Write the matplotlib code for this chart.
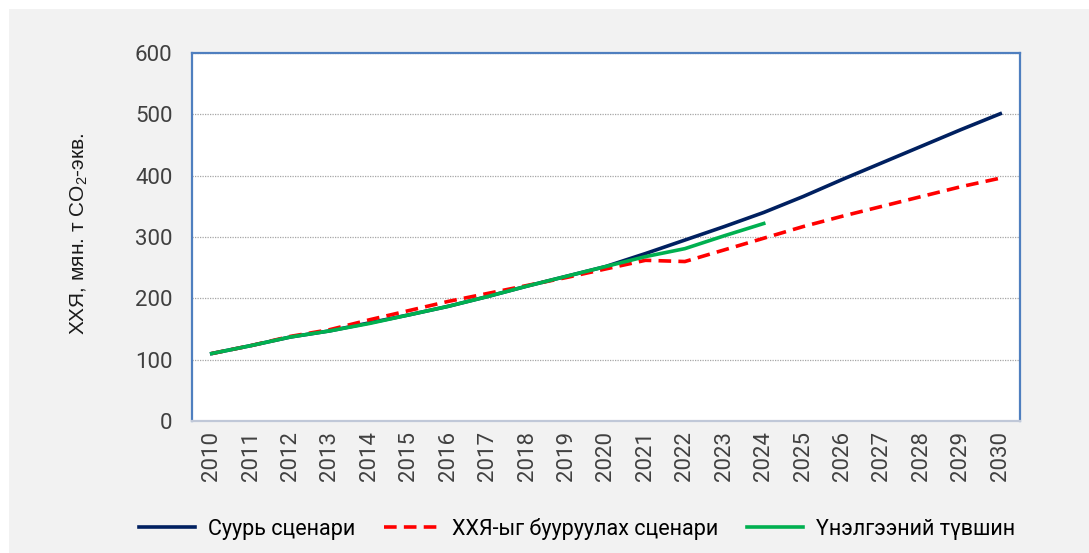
import matplotlib
matplotlib.use("Agg")
import matplotlib.pyplot as plt
from matplotlib.patches import Rectangle

years = list(range(2010, 2031))
base = [110, 123, 137, 147, 160, 173, 187, 203, 220, 236, 252,
        273, 295, 317, 340, 366, 394, 421, 448, 475, 501]
mitigation = [110, 123, 138, 149, 165, 180, 195, 208, 221, 234, 248,
              262, 260, 279, 298, 317, 334, 350, 366, 382, 396]
assess_years = list(range(2010, 2025))
assessment = [110, 123, 137, 147, 159, 173, 187, 203, 220, 236, 252,
              268, 281, 302, 322]

labels = ["Суурь сценари", "ХХЯ-ыг бууруулах сценари", "Үнэлгээний түвшин"]

plt.rcParams["font.family"] = ["Roboto", "DejaVu Sans"]
plt.rcParams["mathtext.fontset"] = "custom"
plt.rcParams["mathtext.rm"] = "Liberation Sans"

fig = plt.figure(figsize=(10.89, 5.53), dpi=100)
fig.patch.set_facecolor("white")
fig.patches.append(Rectangle((9 / 1089, 0), 1, 1 - 9 / 553, transform=fig.transFigure,
                             facecolor="#f2f2f2", edgecolor="none", zorder=-10))

ax = fig.add_axes([192 / 1089, 132 / 553, 828 / 1089, 368 / 553])
ax.set_facecolor("white")

x = list(range(len(years)))
xa = list(range(len(assess_years)))
ax.plot(x, base, color="#002060", lw=2.6, label=labels[0], zorder=3)
ax.plot(x, mitigation, color="#ff0000", lw=2.6, dashes=(3.5, 2), label=labels[1], zorder=4)
ax.plot(xa, assessment, color="#00b050", lw=2.6, label=labels[2], zorder=5)

ax.set_xlim(-0.5, len(years) - 0.5)
ax.set_ylim(0, 600)
ax.set_yticks(range(0, 601, 100))
ax.set_xticks(x)
ax.set_xticklabels([str(y) for y in years], rotation=90)
ax.tick_params(axis="both", length=0, labelsize=16, colors="#404040")
ax.tick_params(axis="y", pad=14)
ax.tick_params(axis="x", pad=7)

ax.grid(axis="y", color="#a6a6a6", linestyle=(0, (1, 1)), lw=0.9)
ax.set_axisbelow(True)
for s in ["left", "top", "right"]:
    ax.spines[s].set_color("#4f7fbf")
    ax.spines[s].set_linewidth(1.6)
ax.spines["bottom"].set_color("#c0c8d8")
ax.spines["bottom"].set_linewidth(1.6)

ax.set_ylabel(r"ХХЯ, мян. т CO$_\mathregular{2}$-экв.", fontsize=15,
              family=["Liberation Sans", "DejaVu Sans"], color="#1a1a1a")
ax.yaxis.set_label_coords(-0.123, 0.51)

ax.legend(loc="upper center", bbox_to_anchor=(0.465, -0.21), ncol=3, frameon=False,
          fontsize=15.5, handlelength=2.6, columnspacing=1.3, handletextpad=0.6)

fig.savefig("out.png", dpi=100)
